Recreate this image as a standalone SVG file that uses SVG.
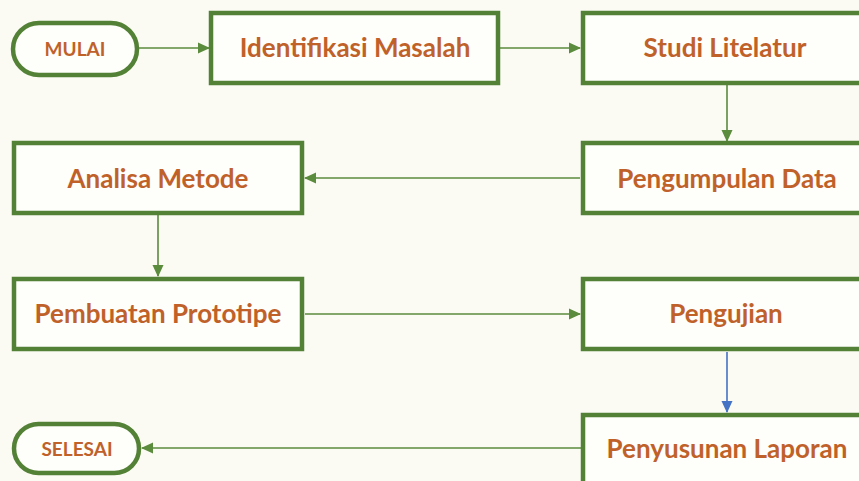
<svg xmlns="http://www.w3.org/2000/svg" width="859" height="481" viewBox="0 0 859 481">
<style>
.box{fill:#FEFEFB;stroke:#538135;stroke-width:4.5}
.t{font-family:Lato,"Open Sans",sans-serif;font-weight:bold;fill:#C0612A;text-anchor:middle;dominant-baseline:central}
.big{font-size:26px}
.sm{font-size:19px}
.c{stroke:#5B8B3C;stroke-width:1.6;fill:none}
.cb{stroke:#4472C4;stroke-width:1.6;fill:none}
</style>
<defs>
<marker id="ag" markerWidth="12" markerHeight="12" refX="11" refY="6" orient="auto" markerUnits="userSpaceOnUse" viewBox="0 0 12 12"><path d="M0,0.5 L12,6 L0,11.5 z" fill="#5B8B3C"/></marker>
<marker id="ab" markerWidth="12" markerHeight="12" refX="11" refY="6" orient="auto" markerUnits="userSpaceOnUse" viewBox="0 0 12 12"><path d="M0,0.5 L12,6 L0,11.5 z" fill="#4472C4"/></marker>
</defs>
<rect width="859" height="481" fill="#FBFBF4"/>
<g id="connectors">
<line class="c" x1="139" y1="48" x2="209" y2="48" marker-end="url(#ag)"/>
<line class="c" x1="500" y1="48" x2="580" y2="48" marker-end="url(#ag)"/>
<line class="c" x1="727" y1="85" x2="727" y2="141" marker-end="url(#ag)"/>
<line class="c" x1="580" y1="178" x2="305" y2="178" marker-end="url(#ag)"/>
<line class="c" x1="158" y1="215" x2="158" y2="276" marker-end="url(#ag)"/>
<line class="c" x1="305" y1="314" x2="580" y2="314" marker-end="url(#ag)"/>
<line class="cb" x1="727" y1="352" x2="727" y2="412" marker-end="url(#ab)"/>
<line class="c" x1="581" y1="448" x2="142" y2="448" marker-end="url(#ag)"/>
</g>
<g id="mulai"><rect class="box" x="13" y="23" width="124" height="52" rx="26"/><text class="t sm" x="75" y="48">MULAI</text></g>
<g id="identifikasi"><rect class="box" x="211" y="13" width="287" height="70"/><text class="t big" x="355" y="47">Identifikasi Masalah</text></g>
<g id="studi"><rect class="box" x="583" y="13" width="290" height="70"/><text class="t big" x="725" y="47">Studi Litelatur</text></g>
<g id="pengumpulan"><rect class="box" x="583" y="143" width="290" height="70"/><text class="t big" x="727" y="178">Pengumpulan Data</text></g>
<g id="analisa"><rect class="box" x="14" y="143" width="288" height="70"/><text class="t big" x="158" y="178">Analisa Metode</text></g>
<g id="pembuatan"><rect class="box" x="14" y="279" width="288" height="70"/><text class="t big" x="158" y="313">Pembuatan Prototipe</text></g>
<g id="pengujian"><rect class="box" x="583" y="279" width="290" height="70"/><text class="t big" x="726" y="313">Pengujian</text></g>
<g id="penyusunan"><rect class="box" x="583" y="415" width="290" height="72"/><text class="t big" x="727" y="448">Penyusunan Laporan</text></g>
<g id="selesai"><rect class="box" x="14" y="424" width="125" height="49" rx="24.5"/><text class="t sm" x="77" y="448">SELESAI</text></g>
</svg>
